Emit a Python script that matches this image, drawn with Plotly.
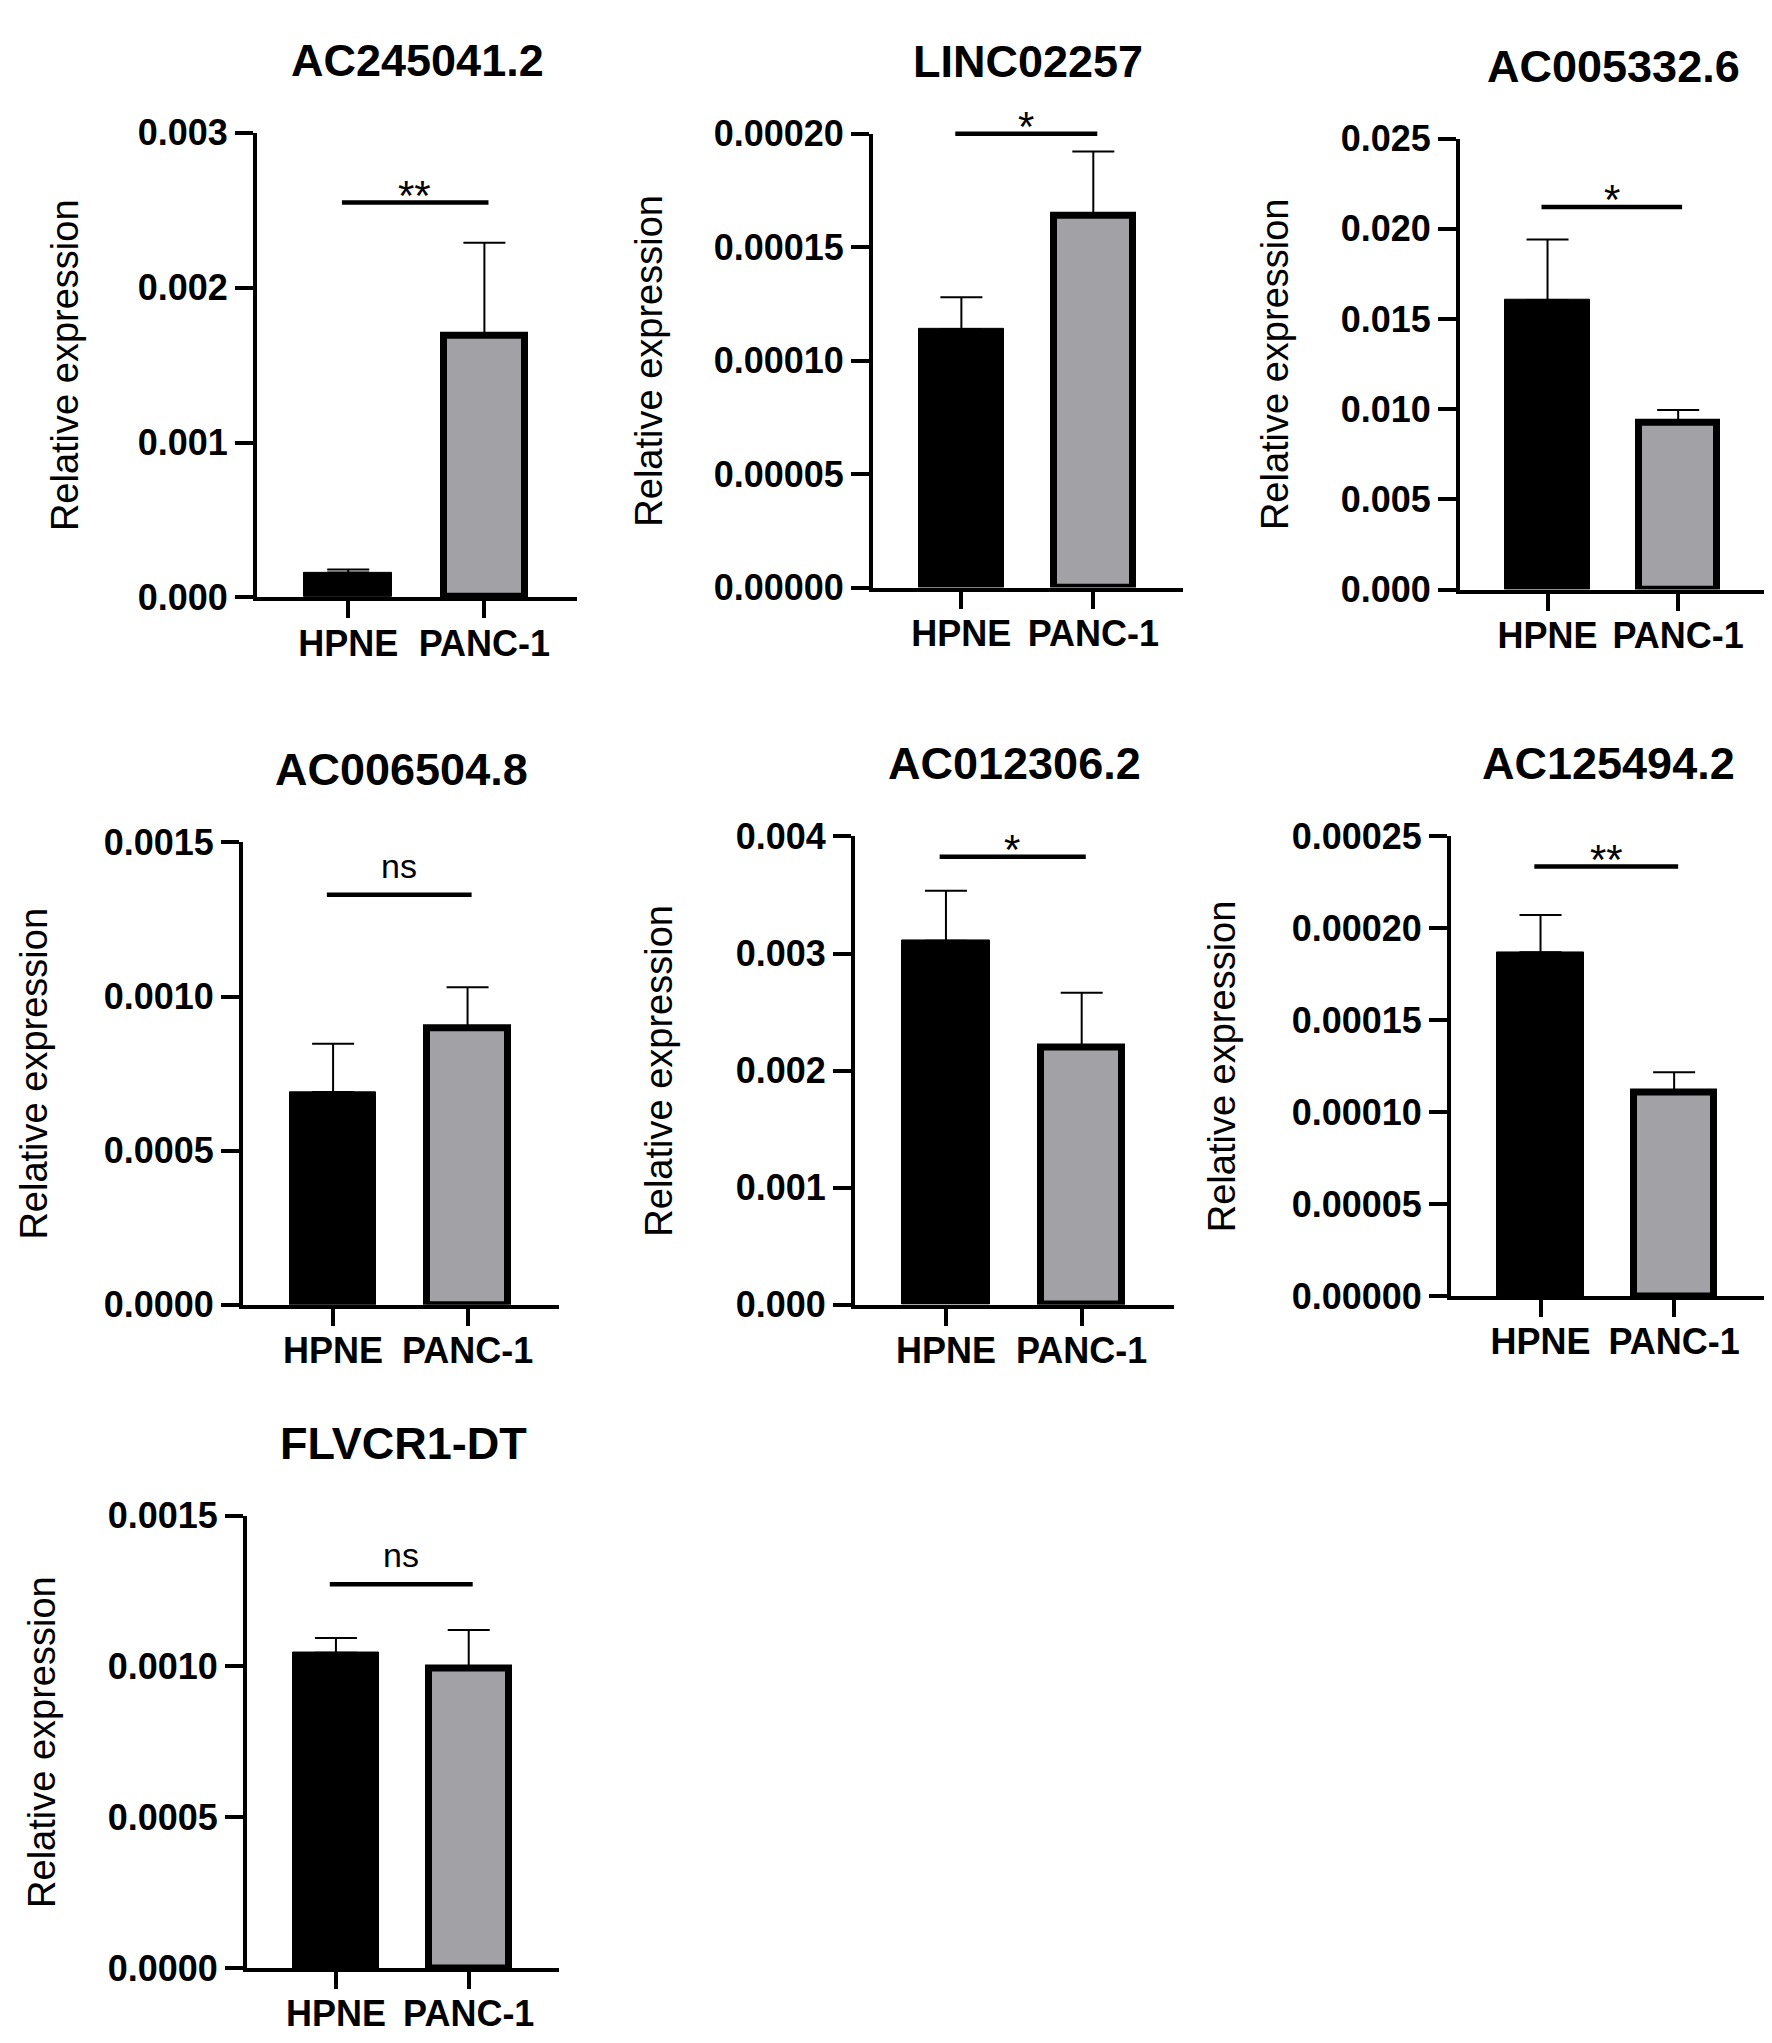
import plotly.graph_objects as go

W, H = 1772, 2043

genes = ["AC245041.2", "LINC02257", "AC005332.6", "AC006504.8",
         "AC012306.2", "AC125494.2", "FLVCR1-DT"]
groups = ["HPNE", "PANC-1"]

hpne_mean = [0.00016, 0.000114, 0.01605, 0.00069, 0.00311, 0.000187, 0.001045]
hpne_sem = [0.00002, 0.000014, 0.00336, 0.000157, 0.000426, 0.0000202, 0.000049]
panc_mean = [0.00169, 0.000164, 0.00927, 0.000898, 0.0022, 0.0001105, 0.000993]
panc_sem = [0.0006, 0.0000282, 0.00069, 0.000132, 0.000465, 0.0000112, 0.000128]

sig_y = [0.00255, 0.0002, 0.02122, 0.00133, 0.003827, 0.0002336, 0.001272]
sig_text = ["**", "*", "*", "ns", "*", "**", "ns"]

y_max = [0.003, 0.0002, 0.025, 0.0015, 0.004, 0.00025, 0.0015]
y_step = [0.001, 0.00005, 0.005, 0.0005, 0.001, 0.00005, 0.0005]
y_fmt = [".3f", ".5f", ".3f", ".4f", ".3f", ".5f", ".4f"]

# plot area of each panel in pixels: left, right, top, bottom
boxes = [(249, 569, 107, 581), (865, 1175, 108, 571), (1452, 1759, 113, 573),
         (235, 551, 831, 1303), (847, 1166, 825, 1303), (1443, 1757, 825, 1294),
         (239, 551, 1518, 1980)]
ytitle_x = [57, 641, 1267, 26, 651, 1214, 34]

FONT = "Liberation Sans, Arial, sans-serif"
GRAY = "#a1a1a6"

fig = go.Figure()
annotations = []

for i, gene in enumerate(genes):
    n = i + 1
    xa, ya = f"x{n}", f"y{n}"
    left, right, top, bottom = boxes[i]

    fig.add_trace(go.Bar(
        x=groups,
        y=[hpne_mean[i], panc_mean[i]],
        width=[0.645, 0.6],
        marker=dict(color=["black", GRAY],
                    line=dict(color="black", width=[1, 7])),
        error_y=dict(type="data", symmetric=False,
                     array=[hpne_sem[i], panc_sem[i]], arrayminus=[0, 0],
                     color="black", thickness=2, width=21),
        xaxis=xa, yaxis=ya, showlegend=False,
    ))

    axis_common = dict(showline=True, linecolor="black", linewidth=4,
                       ticks="outside", tickcolor="black", tickwidth=4,
                       showgrid=False, zeroline=False, fixedrange=True,
                       tickfont=dict(family=FONT, size=36, color="black", weight="bold"))
    fig.update_layout(**{
        f"xaxis{n}": dict(axis_common, domain=[left / W, right / W],
                          range=[-0.67, 1.68], ticklen=17, anchor=ya,
                          ticklabelstandoff=-6),
        f"yaxis{n}": dict(axis_common, domain=[1 - bottom / H, 1 - top / H],
                          range=[0, y_max[i]], dtick=y_step[i], tick0=0,
                          tickformat=y_fmt[i], ticklen=18, anchor=xa),
    })

    # panel title
    annotations.append(dict(text=gene, xref="paper", yref="paper",
                            x=(left + right) / 2 / W, y=1 - (top - 74) / H,
                            xanchor="center", yanchor="middle", showarrow=False,
                            font=dict(family=FONT, size=45, color="black", weight="bold")))
    # y axis title
    annotations.append(dict(text="Relative expression", xref="paper", yref="paper",
                            x=ytitle_x[i] / W, y=1 - (top + bottom) / 2 / H,
                            textangle=-90, xanchor="center", yanchor="middle",
                            showarrow=False,
                            font=dict(family=FONT, size=38, color="black")))
    # significance bar (arrow without head so it is not clipped at the axis top)
    annotations.append(dict(text=" ", xref=xa, yref=ya, x=1.03, y=sig_y[i],
                            axref=xa, ayref=ya, ax=-0.05, ay=sig_y[i],
                            showarrow=True, arrowhead=0, arrowwidth=4.5,
                            arrowcolor="black", standoff=0, startstandoff=0,
                            borderpad=0, font=dict(size=1)))
    is_ns = sig_text[i] == "ns"
    annotations.append(dict(text=sig_text[i], xref=xa, yref=ya, x=0.49, y=sig_y[i],
                            xanchor="center", yanchor="middle", showarrow=False,
                            yshift=29 if is_ns else 7,
                            font=dict(family=FONT, size=34 if is_ns else 42, color="black")))

fig.update_layout(width=W, height=H, margin=dict(l=0, r=0, t=0, b=0),
                  paper_bgcolor="white", plot_bgcolor="white",
                  bargap=0, annotations=annotations, showlegend=False)

fig.write_html("out.html")
